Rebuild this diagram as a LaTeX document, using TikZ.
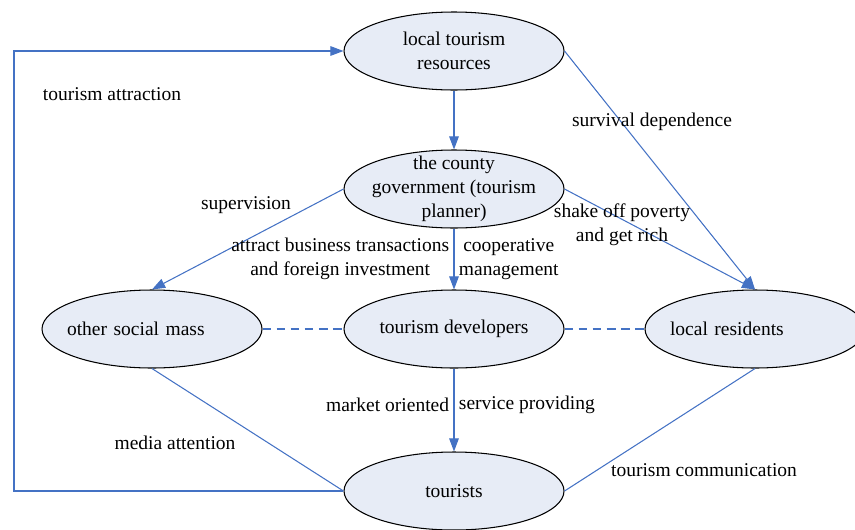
\documentclass[tikz,border=0pt]{standalone}
\usepackage{xcolor}
\usepackage{fontspec}
\setmainfont{Liberation Serif}
\usepackage{tikz}
\usetikzlibrary{shapes.geometric,arrows.meta,positioning}
\definecolor{bleuLien}{RGB}{68,114,196}
\definecolor{fondActeur}{RGB}{231,236,246}

\begin{document}
\begin{tikzpicture}[font=\fontsize{11.1}{13.65}\selectfont,
  acteur/.style={ellipse,draw=black,line width=0.6pt,fill=fondActeur,
                 minimum width=4.4cm,minimum height=1.56cm,
                 inner xsep=-0.25cm,inner ysep=-0.2cm,align=center},
  lien/.style={-{Triangle[length=7.5pt,width=5.5pt]},line width=0.6pt,bleuLien},
  trait/.style={line width=0.6pt,bleuLien},
  tiret/.style={dash pattern=on 5pt off 3pt,line width=0.6pt,bleuLien},
  etiq/.style={text=black,inner sep=2.5pt,align=center}]

  \useasboundingbox (0,0) rectangle (17.1,10.58);

  \node[acteur] (R) at (9.08,9.56) {local tourism\\resources};
  \node[acteur] (G) at (9.08,6.80) {the county\\government (tourism\\planner)};
  \node[acteur,text width=3.4cm,align=left] (O) at (3.04,4.00) {other social mass};
  \node[acteur] (D) at (9.08,4.00) {tourism developers};
  \node[acteur,text width=3.4cm,align=left] (L) at (15.10,4.00) {local residents};
  \node[acteur] (T) at (9.08,0.76) {tourists};
  \coordinate (coin) at (0.28,0.76);

  \draw[lien] (R)--(G);
  \draw[lien] (G.west)--(O.north);
  \draw[lien] (G.east)--(L.north);
  \draw[lien] (R.east)--(L.north);
  \draw[lien] (G)--(D)
    node[etiq,midway,left]{attract business transactions\\and foreign investment}
    node[etiq,midway,right]{cooperative\\management};
  \draw[lien] (D)--(T)
    node[etiq,midway,left,yshift=3pt]{market oriented}
    node[etiq,midway,right,yshift=3pt]{service providing};
  \draw[tiret] (O)--(D);
  \draw[tiret] (D)--(L);
  \draw[trait] (O.south)--(T.west);
  \draw[trait] (L.south)--(T.east);
  \draw[lien] (T.west)--(coin)|-(R.west);

  \node (attraction) at (2.24,8.70) {tourism attraction};
  \node (survie) at (13.04,8.14) {survival dependence};
  \node (supervision) at (4.92,6.48) {supervision};
  \node[align=center] (pauvrete) at (12.44,6.08) {shake off poverty\\and get rich};
  \node (media) at (3.50,1.72) {media attention};
  \node (communication) at (14.08,1.18) {tourism communication};
\end{tikzpicture}
\end{document}
